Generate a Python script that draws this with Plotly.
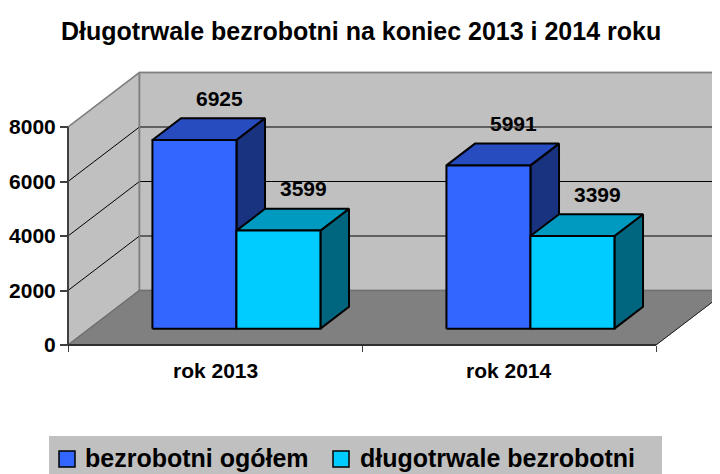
import plotly.graph_objects as go

# ---------------- data ----------------
categories = ["rok 2013", "rok 2014"]
series_names = ["bezrobotni ogółem", "długotrwale bezrobotni"]
values_total = [6925, 5991]
values_long = [3599, 3399]
y_ticks = [0, 2000, 4000, 6000, 8000]
title_text = "Długotrwale bezrobotni na koniec 2013 i 2014 roku"

series_values = [values_total, values_long]

# ---------------- style ----------------
front_colors = ["#3366FF", "#00CCFF"]
top_colors = ["#264CBF", "#0099BF"]
side_colors = ["#1A3380", "#006680"]
FONT = "Liberation Sans, Arial, sans-serif"

W, H = 720, 474
OFF = 8  # page body margin of the browser
# plot area in (page) pixels
PL, PR, PT, PB = 60, 728, 68, 352
# mapping: category unit -> px, value -> px
X0PX, UPX = 68, 294.0          # x=0 at 68px, 1 unit = 294px
Y0PX, VPX = 345, 218.0 / 8000  # value 0 at 345px
DX = 0.243     # 3D depth along x (category units)
DY = 2000      # 3D depth along y (value units)
F0, F1 = 0.3, 0.7
BAR_W = 0.2857
n_cat = len(categories)
n_ser = len(series_names)
y_max = y_ticks[-1]
XMAX = n_cat + DX + 0.05

x_range = [(PL - X0PX) / UPX, (PR - X0PX) / UPX]
y_range = [(Y0PX - PB) / VPX, (Y0PX - PT) / VPX]


def paper_x(px):
    return (px - PL) / (PR - PL)


def paper_y(py):
    return (PB - py) / (PB - PT)


fig = go.Figure()


def poly(xs, ys, fill, line_color, lw):
    fig.add_trace(go.Scatter(
        x=xs + [xs[0]], y=ys + [ys[0]], mode="lines", fill="toself",
        fillcolor=fill, line=dict(color=line_color, width=lw),
        hoverinfo="skip", showlegend=False))


def line(xs, ys, color, lw):
    fig.add_trace(go.Scatter(
        x=xs, y=ys, mode="lines", line=dict(color=color, width=lw),
        hoverinfo="skip", showlegend=False))


# walls and floor
poly([0, 0, DX, DX], [0, y_max, y_max + DY, DY], "#C0C0C0", "#909090", 1.5)
poly([DX, DX, XMAX, XMAX], [DY, y_max + DY, y_max + DY, DY], "#C0C0C0", "#909090", 1.5)
poly([0, n_cat, n_cat + DX, DX], [0, 0, DY, DY], "#808080", "#808080", 1)

# gridlines
gx, gy = [], []
for v in y_ticks[1:-1]:
    gx += [0, DX, XMAX, None]
    gy += [v, v + DY, v + DY, None]
line(gx, gy, "#000000", 1)

# wall edges
line([0, DX, XMAX], [y_max, y_max + DY, y_max + DY], "#808080", 1.5)
line([DX, DX], [DY, y_max + DY], "#808080", 1.5)
line([0, DX, XMAX], [0, DY, DY], "#707070", 1.5)
line([n_cat, n_cat + DX], [0, DY], "#202020", 1)
# axes lines
line([0, 0], [0, y_max], "#404040", 2)
line([0, n_cat], [0, 0], "#303030", 2)

# bars
dxd = (F1 - F0) * DX
dyd = (F1 - F0) * DY
base = F0 * DY
for c in range(n_cat):
    for s in range(n_ser):
        v = series_values[s][c]
        x0 = c + 0.5 - n_ser * BAR_W / 2 + s * BAR_W + F0 * DX
        x1 = x0 + BAR_W
        t = base + v
        poly([x1, x1 + dxd, x1 + dxd, x1], [base, base + dyd, t + dyd, t],
             side_colors[s], "#000000", 2)
        poly([x0, x1, x1 + dxd, x0 + dxd], [t, t, t + dyd, t + dyd],
             top_colors[s], "#000000", 2)
        poly([x0, x1, x1, x0], [base, base, t, t],
             front_colors[s], "#000000", 2)
        fig.add_annotation(
            x=x0 + BAR_W / 2 + 0.085, y=t + dyd, xref="x", yref="y",
            text=str(v), showarrow=False, yshift=20, yanchor="middle",
            font=dict(family=FONT, size=21, color="#000000", weight="bold"))

# category labels
for c, name in enumerate(categories):
    fig.add_annotation(
        x=c + 0.5, y=paper_y(370), xref="x", yref="paper", text=name,
        showarrow=False, yanchor="middle",
        font=dict(family=FONT, size=21, color="#000000", weight="bold"))

# title
fig.add_annotation(
    x=paper_x(361), y=paper_y(31), xref="paper", yref="paper",
    text=title_text, showarrow=False, xanchor="center", yanchor="middle",
    font=dict(family=FONT, size=25, color="#000000", weight="bold"))

# legend (manual, drawn from series list)
shapes = [dict(type="rect", xref="paper", yref="paper",
               x0=paper_x(49), x1=paper_x(662), y0=paper_y(480), y1=paper_y(436),
               fillcolor="#C0C0C0", line=dict(width=0), layer="below")]
leg_sq_x = [59, 333]
leg_txt_x = [83, 358]
for s, name in enumerate(series_names):
    shapes.append(dict(type="rect", xref="paper", yref="paper",
                       x0=paper_x(leg_sq_x[s]), x1=paper_x(leg_sq_x[s] + 16),
                       y0=paper_y(467), y1=paper_y(451),
                       fillcolor=front_colors[s], line=dict(color="#000000", width=1.5)))
    fig.add_annotation(
        x=paper_x(leg_txt_x[s]), y=paper_y(458), xref="paper", yref="paper",
        text=name, showarrow=False, xanchor="left", yanchor="middle",
        font=dict(family=FONT, size=25, color="#000000", weight="bold"))

fig.update_layout(
    width=PR - OFF, height=H - OFF,
    margin=dict(l=PL - OFF, r=0, t=PT - OFF, b=H - PB, pad=0),
    paper_bgcolor="#FFFFFF", plot_bgcolor="#FFFFFF",
    showlegend=False, hovermode=False,
    shapes=shapes,
    xaxis=dict(range=x_range, showgrid=False, zeroline=False, showline=False,
               tickvals=list(range(n_cat + 1)), ticks="outside", ticklen=6,
               tickwidth=1, tickcolor="#404040", showticklabels=False,
               anchor="free", position=paper_y(Y0PX)),
    yaxis=dict(range=y_range, showgrid=False, zeroline=False, showline=False,
               tickvals=y_ticks, ticktext=[str(t) for t in y_ticks],
               ticks="outside", ticklen=8, tickwidth=1.5, tickcolor="#404040",
               tickfont=dict(family=FONT, size=21, color="#000000", weight="bold"),
               anchor="free", position=paper_x(X0PX)),
)

fig.write_html("out.html")
